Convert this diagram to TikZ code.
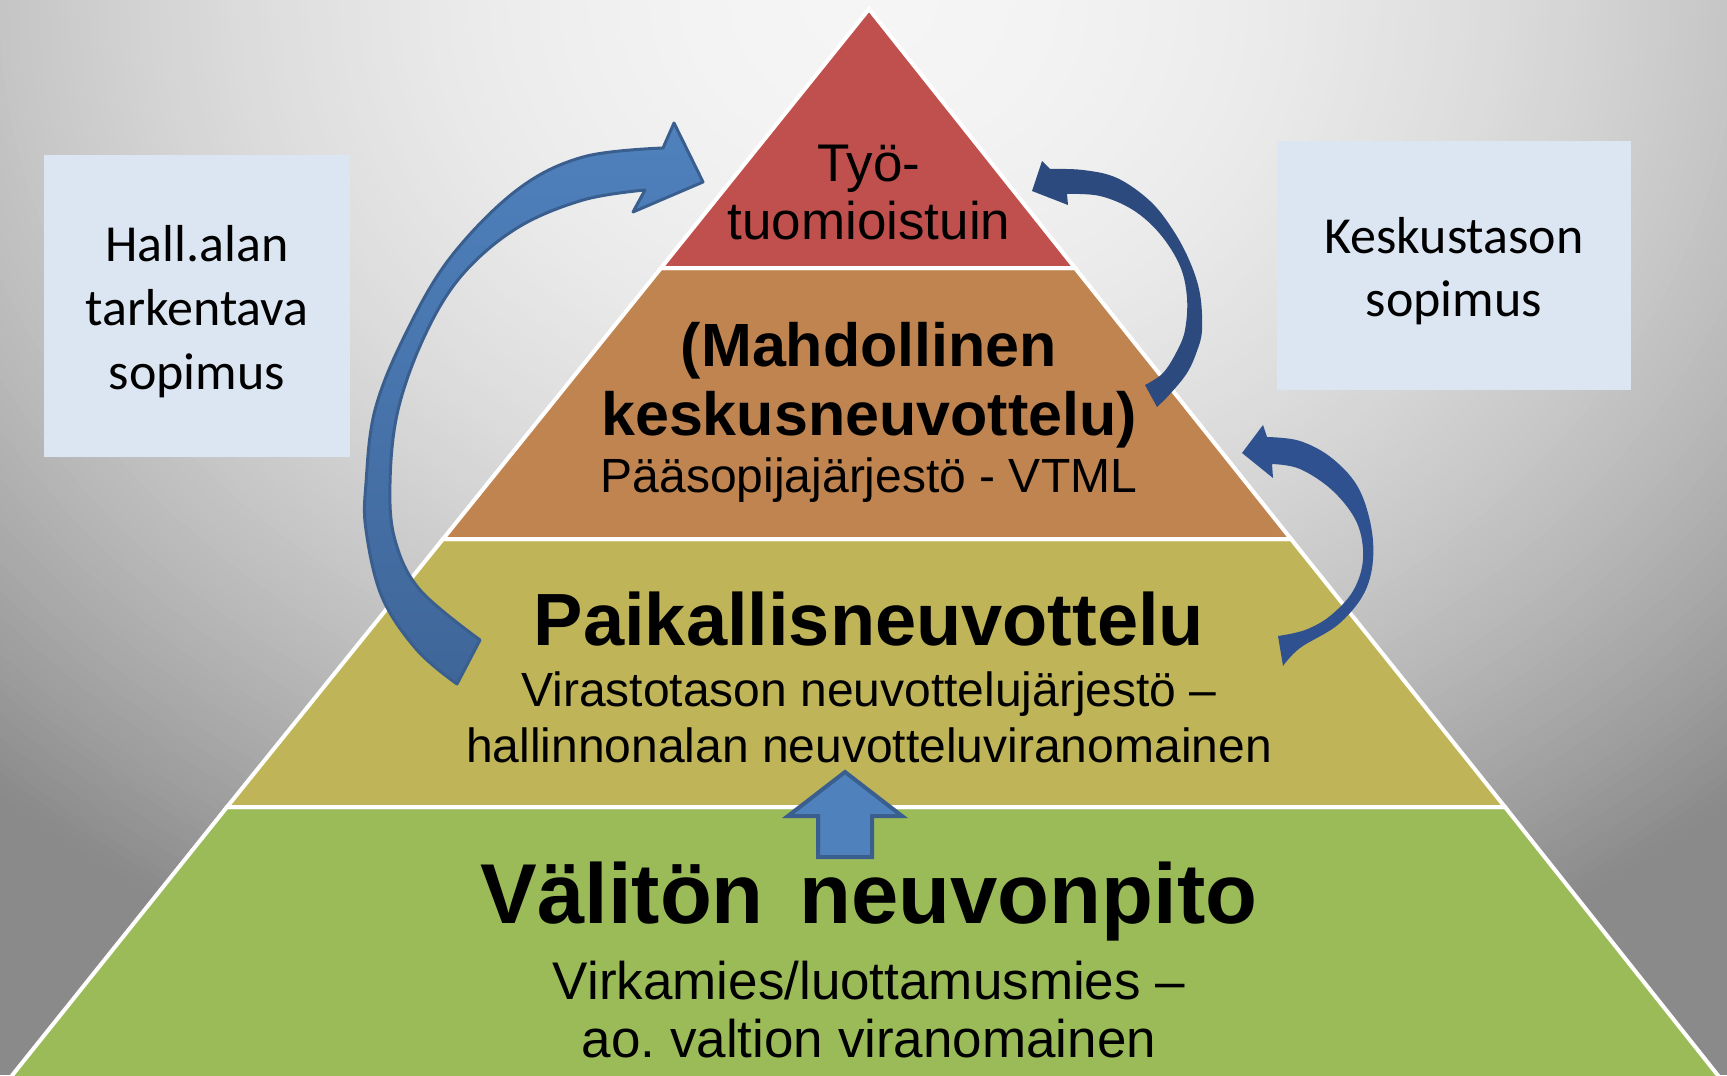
\documentclass[tikz,border=0pt]{standalone}
\usepackage{fontspec}
\setmainfont{Liberation Sans}
\newfontfamily\calibri{Carlito}
\newcommand\myfs[2]{\fontsize{#1}{#2}\selectfont}
\definecolor{cred}{HTML}{C0504D}
\definecolor{corange}{HTML}{C08450}
\definecolor{colive}{HTML}{C0B458}
\definecolor{cgreen}{HTML}{9BBB59}
\definecolor{cbox}{HTML}{DCE6F2}
\definecolor{abluefill}{HTML}{4F81BD}
\definecolor{abluedark}{HTML}{3F6699}
\definecolor{abluebord}{HTML}{3A5F8F}
\definecolor{anavyA}{HTML}{2C4A7E}
\definecolor{anavyB}{HTML}{2F5190}
\tikzset{
  layer/.style={draw=white, line width=2pt, line join=miter},
  lt/.style={anchor=base, inner sep=0pt, text=black},
  boxnode/.style={fill=cbox, draw=none, inner sep=0pt},
  bt/.style={anchor=base, inner sep=0pt, text=black, font=\calibri\myfs{26}{32}},
  bigarrow/.style={draw=abluebord, line width=1.5pt, line join=round, top color=abluefill, bottom color=abluedark},
  navyarrowA/.style={fill=anavyA, draw=none},
  navyarrowB/.style={fill=anavyB, draw=none},
  uparrow/.style={fill=abluefill, draw=abluebord, line width=2pt, line join=miter}
}
\begin{document}
\frenchspacing
\begin{tikzpicture}[x=0.5pt,y=-0.5pt]
\useasboundingbox (0,0) rectangle (1727,1075);
\begin{scope}
  \clip (0,0) rectangle (1727,1075);
  % background gradient (light at top centre, darker toward the corners)
  \fill[black!46] (0,0) rectangle (1727,1075);
  \foreach \r in {1300,1290,...,10} {
    \pgfmathsetmacro\p{min(46,4+0.25*(\r/100)*(\r/100))}
    \fill[black!\p] (869,0) ellipse[x radius=\r, y radius=\r/1.2];
  }
  % pyramid layers
  \coordinate (apex) at (869,9);
  \coordinate (l1) at (661,268);  \coordinate (r1) at (1075,268);
  \coordinate (l2) at (443,539);  \coordinate (r2) at (1291,539);
  \coordinate (l3) at (227,807);  \coordinate (r3) at (1505,807);
  \coordinate (l4) at (10,1078);  \coordinate (r4) at (1720,1078);
  \filldraw[layer, fill=cgreen] (l3) -- (r3) -- (r4) -- (l4) -- cycle;
  \filldraw[layer, fill=colive] (l2) -- (r2) -- (r3) -- (l3) -- cycle;
  \filldraw[layer, fill=corange] (l1) -- (r1) -- (r2) -- (l2) -- cycle;
  \filldraw[layer, fill=cred] (apex) -- (r1) -- (l1) -- cycle;
\end{scope}

% side boxes
\node[boxnode, minimum width=153pt, minimum height=151pt] (lbox) at (197,306) {};
\node[boxnode, minimum width=177pt, minimum height=124.5pt] (rbox) at (1454,265.5) {};
\node[bt] (lb1) at (197,261) {Hall.alan};
\node[bt] (lb2) at (197,325) {tarkentava};
\node[bt] (lb3) at (197,389) {sopimus};
\node[bt] (rb1) at (1454,253) {Keskustason};
\node[bt] (rb2) at (1454,316) {sopimus};

% big left curved arrow
\filldraw[bigarrow] plot[smooth, tension=0.6] coordinates {(457,684) (417,650) (382,597) (366,530) (366,483) (375,410) (405,335) (450,258) (517,190) (583,157) (663,148)}
  -- (674,123) -- (703,182) -- (633,212) -- (645,190)
  -- plot[smooth, tension=0.6] coordinates {(645,190) (583,200) (517,228) (462,275) (425,335) (398,410) (390,483) (395,540) (420,590) (480,640)}
  -- cycle;

% upper right arrow
\fill[navyarrowA] plot[smooth, tension=0.6] coordinates {(1157,407) (1170,394) (1187,373) (1197,351) (1202,330) (1200,294) (1190,262) (1173,230) (1150,201) (1117,178) (1083,170) (1050,169)}
  -- (1042,161) -- (1032,191) -- (1068,205) -- (1067,194)
  -- plot[smooth, tension=0.6] coordinates {(1067,194) (1100,196) (1133,210) (1160,234) (1180,266) (1187,298) (1185,330) (1177,351) (1163,373) (1145,385)}
  -- cycle;

% lower right arrow
\fill[navyarrowB] plot[smooth, tension=0.6] coordinates {(1283,666) (1300,648) (1340,623) (1367,587) (1373,541) (1360,491) (1333,459) (1300,441) (1267,437)}
  -- (1263,425) -- (1242,453) -- (1273,478) -- (1272,464)
  -- plot[smooth, tension=0.6] coordinates {(1272,464) (1300,469) (1333,491) (1357,523) (1363,559) (1353,591) (1330,616) (1305,630) (1278,636)}
  -- cycle;

% small up arrow
\filldraw[uparrow] (845,772) -- (902,816) -- (872,816) -- (872,857) -- (818,857) -- (818,816) -- (788,816) -- cycle;

% pyramid texts
\node[lt, font=\myfs{26.5}{31}] (tyo1) at (869,182) {Työ-};
\node[lt, font=\myfs{26.5}{31}] (tyo2) at (869,240) {tuomioistuin};
\node[lt, font=\bfseries\myfs{30.5}{36}] (mk1) at (869,366) {(Mahdollinen};
\node[lt, font=\bfseries\myfs{30.5}{36}] (mk2) at (869,435) {keskusneuvottelu)};
\node[lt, font=\myfs{24}{29}] (mk3) at (869,492) {Pääsopijajärjestö - VTML};
\node[lt, font=\bfseries\myfs{37}{44}] (pk1) at (869,645) {Paikallisneuvottelu};
\node[lt, font=\myfs{24}{29}] (pk2) at (869,706) {Virastotason neuvottelujärjestö –};
\node[lt, font=\myfs{24}{29}] (pk3) at (869,762) {hallinnonalan neuvotteluviranomainen};
\node[lt, font=\bfseries\myfs{42.5}{50}] (vn1) at (869,923) {Välitön\hspace{0.42em}neuvonpito};
\node[lt, font=\myfs{26.5}{31}] (vn2) at (869,999) {Virkamies/luottamusmies –};
\node[lt, font=\myfs{26.5}{31}] (vn3) at (869,1057) {ao. valtion viranomainen};
\end{tikzpicture}
\end{document}
